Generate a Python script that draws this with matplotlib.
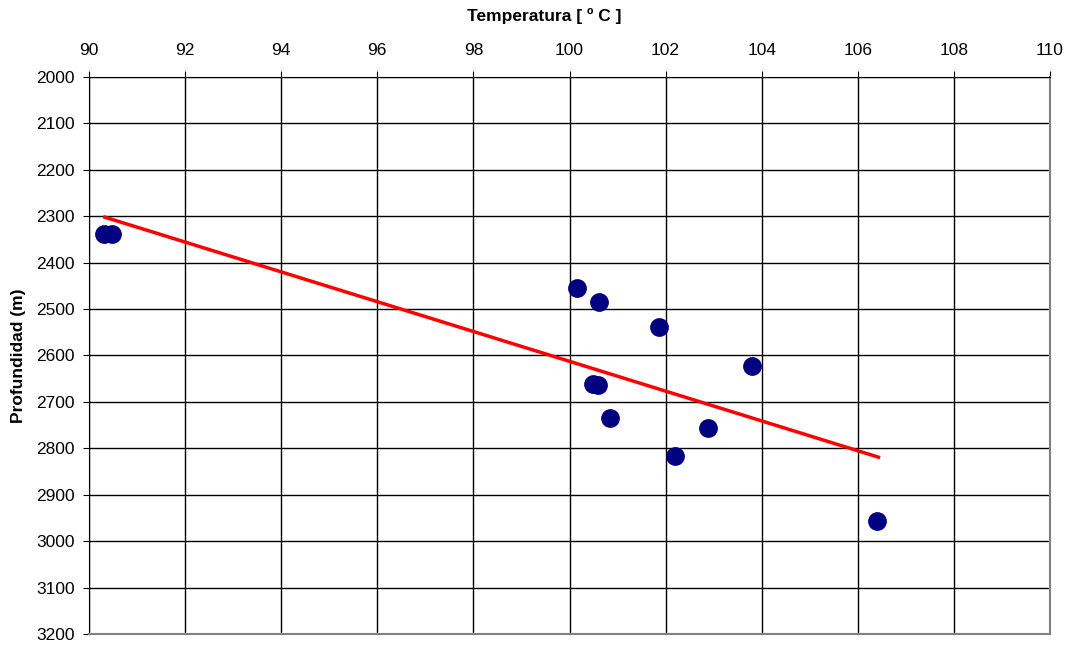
import numpy as np
import matplotlib.pyplot as plt

# measured points
temperatura = [90.31, 90.48, 100.16, 100.62, 101.87, 103.79, 100.49, 100.60,
               100.85, 102.89, 102.20, 106.39]
profundidad = [2338, 2338, 2455, 2485, 2539, 2623, 2661, 2663,
               2735, 2756, 2816, 2956]

# trend line end points
linea_t = [90.33, 106.43]
linea_p = [2302, 2819]

fig = plt.figure(figsize=(10.73, 6.47), dpi=100)
ax = fig.add_axes([89/1073, 1 - 634/647, (1050 - 89)/1073, (634 - 77)/647])

ax.plot(linea_t, linea_p, color='#ff0000', lw=2.5, zorder=3)
ax.plot(temperatura, profundidad, 'o', color='#000080', ms=12.5, zorder=4)

ax.set_xlim(90, 110)
ax.set_ylim(3200, 2000)
ax.set_xticks(np.arange(90, 111, 2))
ax.set_yticks(np.arange(2000, 3201, 100))
ax.xaxis.tick_top()
ax.xaxis.set_label_position('top')
ax.grid(True, color='black', lw=1)
ax.set_axisbelow(True)
ax.tick_params(labelsize=12.5, length=4, direction='out',
               top=True, bottom=False, left=True, right=False)
ax.tick_params(axis='x', pad=10)
ax.tick_params(axis='y', pad=6)

for s in ['top', 'left']:
    ax.spines[s].set_color('black')
for s in ['right', 'bottom']:
    ax.spines[s].set_color('gray')
    ax.spines[s].set_linewidth(1.5)

ax.set_xlabel('Temperatura [ º C ]', fontsize=12.5, fontweight='bold',
              family='Liberation Sans')
ax.set_ylabel('Profundidad (m)', fontsize=12.5, fontweight='bold',
              family='Liberation Sans')
ax.xaxis.set_label_coords(0.4735, 1.100)
ax.yaxis.set_label_coords(-0.0656, 0.5)
for lab in ax.get_xticklabels() + ax.get_yticklabels():
    lab.set_family('Liberation Sans')

fig.savefig('out.png', dpi=100)
